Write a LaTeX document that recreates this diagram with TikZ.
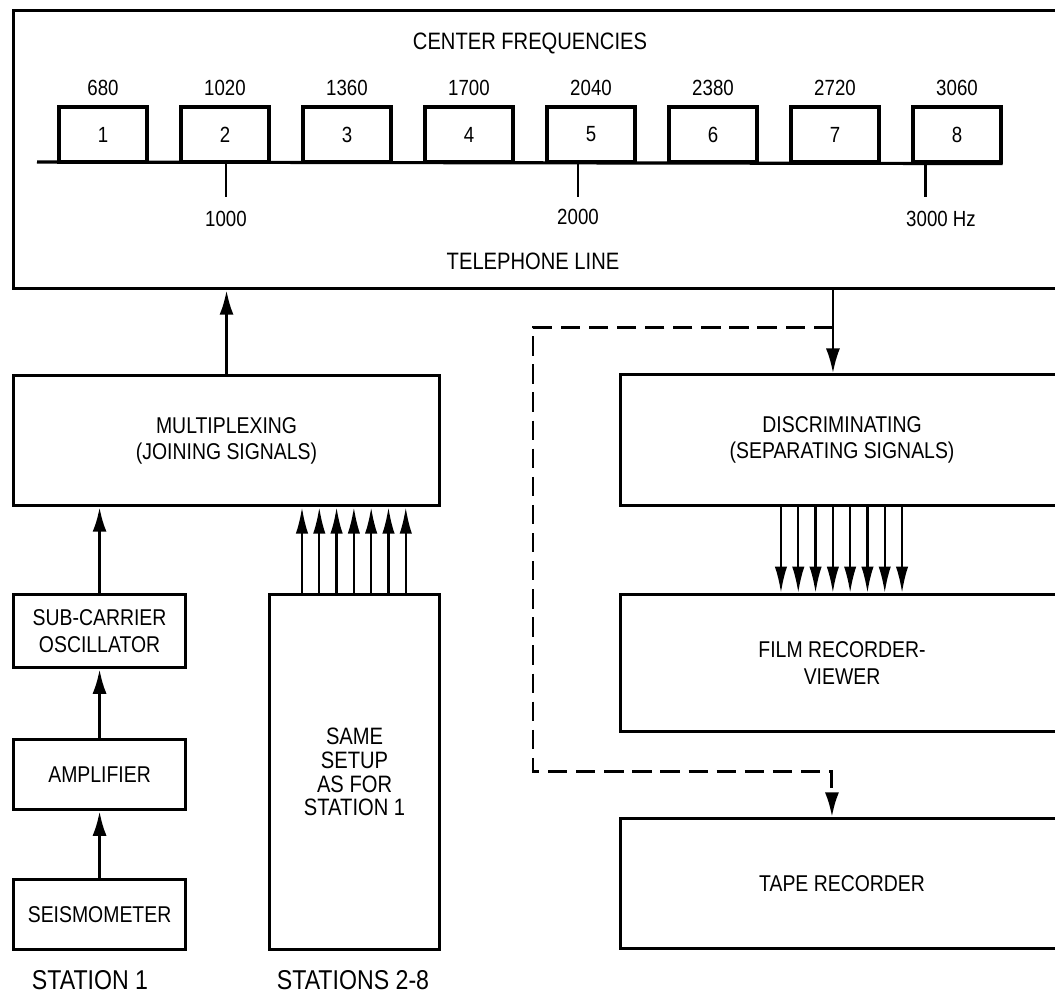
\documentclass[tikz,border=0pt]{standalone}
\usepackage{fontspec}
\setmainfont{Liberation Sans}[FakeStretch=0.85]
\usetikzlibrary{arrows.meta,positioning}

\tikzset{
  blk/.style={draw,line width=1.8pt,rectangle,anchor=north west,align=center,font=\fontsize{13}{15}\selectfont},
  fbox/.style={draw,line width=1.8pt,minimum width=1.76cm,minimum height=1.1cm,font=\fontsize{12.5}{14}\selectfont},
  sig/.style={line width=1.7pt,-{Latex[length=14pt,width=8pt]}},
  bus/.style={line width=1.3pt,-{Latex[length=15pt,width=7pt]}},
  lbl/.style={font=\fontsize{13.5}{15}\selectfont},
}

\begin{document}
\begin{tikzpicture}[x=0.02cm,y=-0.02cm]
\useasboundingbox (0,0) rectangle (1055,998);
% telephone line with the 8 channels
\node[blk,minimum width=21cm,minimum height=5.56cm] (tel) at (12,9) {};
\node[lbl] (cf) at (530,43) {CENTER FREQUENCIES};
\node[lbl] (tl) at (533,261) {TELEPHONE LINE};
\foreach \i/\f in {1/680,2/1020,3/1360,4/1700,5/2040,6/2380,7/2720,8/3060}{
  \node[fbox] (f\i) at ({103+122*(\i-1)},134.5) {\i};
  \node[above=2pt of f\i,font=\fontsize{12.5}{14}\selectfont] (c\i) {\f};
}
\coordinate (lstart) at (37,162);
\draw[line width=1.8pt] (lstart) -- (f8.south east);
\draw[line width=1.7pt] (226,162) -- (226,197) node[below=4pt,font=\fontsize{12.5}{14}\selectfont] (k1) {1000};
\draw[line width=1.7pt] (578,162) -- (578,197) node[below=3pt,font=\fontsize{12.5}{14}\selectfont] (k2) {2000};
\draw[line width=1.7pt] (925,162) -- (925,197) node[below=4pt,xshift=0.32cm,font=\fontsize{12.5}{14}\selectfont] (k3) {3000 Hz};

% sending side
\node[blk,minimum width=8.52cm,minimum height=2.6cm] (mux) at (12,374) {MULTIPLEXING\\(JOINING SIGNALS)};
\node[blk,minimum width=3.44cm,minimum height=1.46cm] (sco) at (12,593) {SUB-CARRIER\\OSCILLATOR};
\node[blk,minimum width=3.44cm,minimum height=1.4cm] (amp) at (12,738) {AMPLIFIER};
\node[blk,minimum width=3.44cm,minimum height=1.4cm] (seis) at (12,878) {SEISMOMETER};
\node[blk,minimum width=3.4cm,minimum height=7.1cm,font=\fontsize{13.5}{13.5}\selectfont] (same) at (268,593) {SAME\\SETUP\\AS FOR\\STATION 1};
\node[font=\fontsize{15.5}{17}\selectfont] (st1) at (90,980) {STATION 1};
\node[font=\fontsize{15.5}{17}\selectfont] (st28) at (353,980) {STATIONS 2-8};

\draw[sig] (mux.north) -- (mux.north |- tel.south);
\draw[sig] (sco.north) -- (sco.north |- mux.south);
\draw[sig] (amp.north) -- (amp.north |- sco.south);
\draw[sig] (seis.north) -- (seis.north |- amp.south);
\foreach \k in {0,...,6}
  \draw[bus] ([xshift={0.68cm+\k*0.346cm}]same.north west) -- ([xshift={0.68cm+\k*0.346cm}]same.north west |- mux.south);

% receiving side
\node[blk,minimum width=8.86cm,minimum height=2.62cm] (disc) at (619,373) {DISCRIMINATING\\(SEPARATING SIGNALS)};
\node[blk,minimum width=8.86cm,minimum height=2.74cm] (film) at (619,593) {FILM RECORDER-\\VIEWER};
\node[blk,minimum width=8.86cm,minimum height=2.6cm] (tape) at (619,817) {TAPE RECORDER};

\coordinate (din) at ([xshift=4.28cm]disc.north west);
\coordinate (tin) at ([xshift=4.26cm]tape.north west);
\coordinate (split) at (din |- 0,327);
\draw[sig,line width=1.3pt] (din |- tel.south) -- (din);
\foreach \k in {0,...,7}
  \draw[bus] ([xshift={3.24cm+\k*0.346cm}]disc.south west) -- ([xshift={3.24cm+\k*0.346cm}]disc.south west |- film.north);
\draw[sig,dash pattern=on 11pt off 5pt] (split) -- (533,327) -- (533,771) -- (tin |- 0,771) -- (tin);
\end{tikzpicture}
\end{document}
